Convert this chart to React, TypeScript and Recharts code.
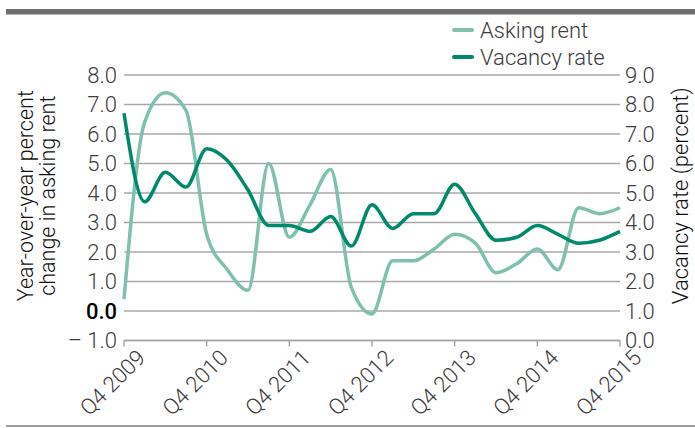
import React from 'react';
import { LineChart, Line, XAxis, YAxis, CartesianGrid, Legend } from 'recharts';

const quarters = [
  'Q4 2009', 'Q1 2010', 'Q2 2010', 'Q3 2010', 'Q4 2010',
  'Q1 2011', 'Q2 2011', 'Q3 2011', 'Q4 2011',
  'Q1 2012', 'Q2 2012', 'Q3 2012', 'Q4 2012',
  'Q1 2013', 'Q2 2013', 'Q3 2013', 'Q4 2013',
  'Q1 2014', 'Q2 2014', 'Q3 2014', 'Q4 2014',
  'Q1 2015', 'Q2 2015', 'Q3 2015', 'Q4 2015',
];

const askingRent = [
  0.4, 6.4, 7.4, 6.8, 2.6,
  1.4, 0.7, 5.0, 2.5,
  3.6, 4.8, 0.8, -0.1,
  1.7, 1.7, 2.1, 2.6,
  2.3, 1.3, 1.6, 2.1,
  1.4, 3.5, 3.3, 3.5,
];

const vacancyRate = [
  7.7, 4.7, 5.7, 5.2, 6.5,
  6.1, 5.1, 3.9, 3.9,
  3.7, 4.2, 3.2, 4.6,
  3.8, 4.3, 4.3, 5.3,
  4.3, 3.4, 3.5, 3.9,
  3.6, 3.3, 3.4, 3.7,
];

const leftTicks = [-1, 0, 1, 2, 3, 4, 5, 6, 7, 8];
const rightTicks = [0, 1, 2, 3, 4, 5, 6, 7, 8, 9];
const xTickLabels = ['Q4 2009', 'Q4 2010', 'Q4 2011', 'Q4 2012', 'Q4 2013', 'Q4 2014', 'Q4 2015'];

const seriesNames = ['Asking rent', 'Vacancy rate'];
const seriesColors = ['#7fc0af', '#008a6b'];

const data = quarters.map((q, i) => ({
  quarter: q,
  askingRent: askingRent[i],
  vacancyRate: vacancyRate[i],
}));

const FONT = 'Roboto, "Liberation Sans", Arial, sans-serif';
const TEXT = '#3c3c3c';

const LeftTick = (props: any) => {
  const { x, y, payload } = props;
  const v = payload.value as number;
  const isZero = v === 0;
  const label = v < 0 ? `\u2013 ${Math.abs(v).toFixed(1)}` : v.toFixed(1);
  return (
    <text x={x} y={y} dy="0.36em" textAnchor="end" fontFamily={FONT} fontSize={22}
      fontWeight={isZero ? 500 : 300} fill={isZero ? '#000' : TEXT}>
      {label}
    </text>
  );
};

const RightTick = (props: any) => {
  const { x, y, payload } = props;
  const v = payload.value as number;
  return (
    <text x={x} y={y} dy="0.36em" textAnchor="start" fontFamily={FONT} fontSize={22}
      fontWeight={300} fill={TEXT}>
      {v.toFixed(1)}
    </text>
  );
};

const XTick = (props: any) => {
  const { x, y, payload } = props;
  if (!xTickLabels.includes(payload.value)) return null;
  return (
    <g transform={`translate(${x},${y})`}>
      <text x={7} y={25} transform="rotate(-45)" textAnchor="end" fontFamily={FONT}
        fontSize={22} fontWeight={300} fill={TEXT}>
        {payload.value}
      </text>
    </g>
  );
};

const LeftTitle = (props: any) => {
  const vb = props.viewBox || { y: 75, height: 265 };
  const cy = vb.y + vb.height / 2 - 12;
  return (
    <g>
      <text x={33} y={cy} transform={`rotate(-90 33 ${cy})`} textAnchor="middle"
        fontFamily={FONT} fontSize={21.5} fontWeight={300} fill="#111">
        Year-over-year percent
      </text>
      <text x={55} y={cy} transform={`rotate(-90 55 ${cy})`} textAnchor="middle"
        fontFamily={FONT} fontSize={21.5} fontWeight={300} fill="#111">
        change in asking rent
      </text>
    </g>
  );
};

const RightTitle = (props: any) => {
  const vb = props.viewBox || { x: 620, y: 75, width: 75, height: 265 };
  const cy = vb.y + vb.height / 2 - 12;
  const cx = 688;
  return (
    <text x={cx} y={cy} transform={`rotate(-90 ${cx} ${cy})`} textAnchor="middle"
      fontFamily={FONT} fontSize={22} fontWeight={300} fill="#111">
      Vacancy rate (percent)
    </text>
  );
};

const renderLegend = () => (
  <div style={{ fontFamily: FONT, fontSize: 22, fontWeight: 300, color: TEXT, lineHeight: '27px' }}>
    {seriesNames.map((n, i) => (
      <div key={n} style={{ display: 'flex', alignItems: 'center', whiteSpace: 'nowrap' }}>
        <span style={{ display: 'inline-block', width: 22, height: 4, borderRadius: 2, background: seriesColors[i], marginRight: 6 }} />
        <span>{n}</span>
      </div>
    ))}
  </div>
);

export default function App() {
  return (
    <div style={{ position: 'absolute', left: 0, top: 0, width: 695, height: 428, background: '#fff' }}>
      <div style={{ position: 'absolute', left: 6, top: 9, width: 689, height: 5, background: '#6e6e70' }} />
      <div style={{ position: 'absolute', left: 6, top: 14, width: 689, height: 1, background: '#b4b4b4' }} />
      <div style={{ position: 'absolute', left: 6, top: 425, width: 689, height: 2, background: '#9c9c9c' }} />
      <LineChart width={695} height={428} data={data} margin={{ top: 75, right: 0, bottom: 0, left: 0 }}>
        <CartesianGrid yAxisId="left" vertical={false} stroke="#a8a8a8" strokeWidth={1.5} />
        <XAxis dataKey="quarter" interval={3} height={87.5} tick={<XTick />} tickSize={6} tickMargin={0}
          axisLine={{ stroke: '#a8a8a8', strokeWidth: 1.5 }} tickLine={{ stroke: '#a8a8a8', strokeWidth: 1.5 }}
          padding={{ left: 0, right: 0 }} />
        <YAxis yAxisId="left" domain={[-1, 8]} ticks={leftTicks} width={124} tickSize={0} tickMargin={7}
          axisLine={false} tickLine={false} tick={<LeftTick />} label={{ content: <LeftTitle /> }} />
        <YAxis yAxisId="right" orientation="right" domain={[0, 9]} ticks={rightTicks} width={75} tickSize={0}
          tickMargin={5} axisLine={false} tickLine={false} tick={<RightTick />} label={{ content: <RightTitle /> }} />
        <Legend layout="vertical" align="center" verticalAlign="middle" content={renderLegend}
          wrapperStyle={{ position: 'absolute', left: 452, top: 16.5, width: 'auto', height: 'auto' }} />
        <Line yAxisId="left" type="monotone" dataKey="askingRent" name={seriesNames[0]} stroke={seriesColors[0]}
          strokeWidth={3.5} dot={false} isAnimationActive={false} />
        <Line yAxisId="right" type="monotone" dataKey="vacancyRate" name={seriesNames[1]} stroke={seriesColors[1]}
          strokeWidth={3.5} dot={false} isAnimationActive={false} />
      </LineChart>
    </div>
  );
}
